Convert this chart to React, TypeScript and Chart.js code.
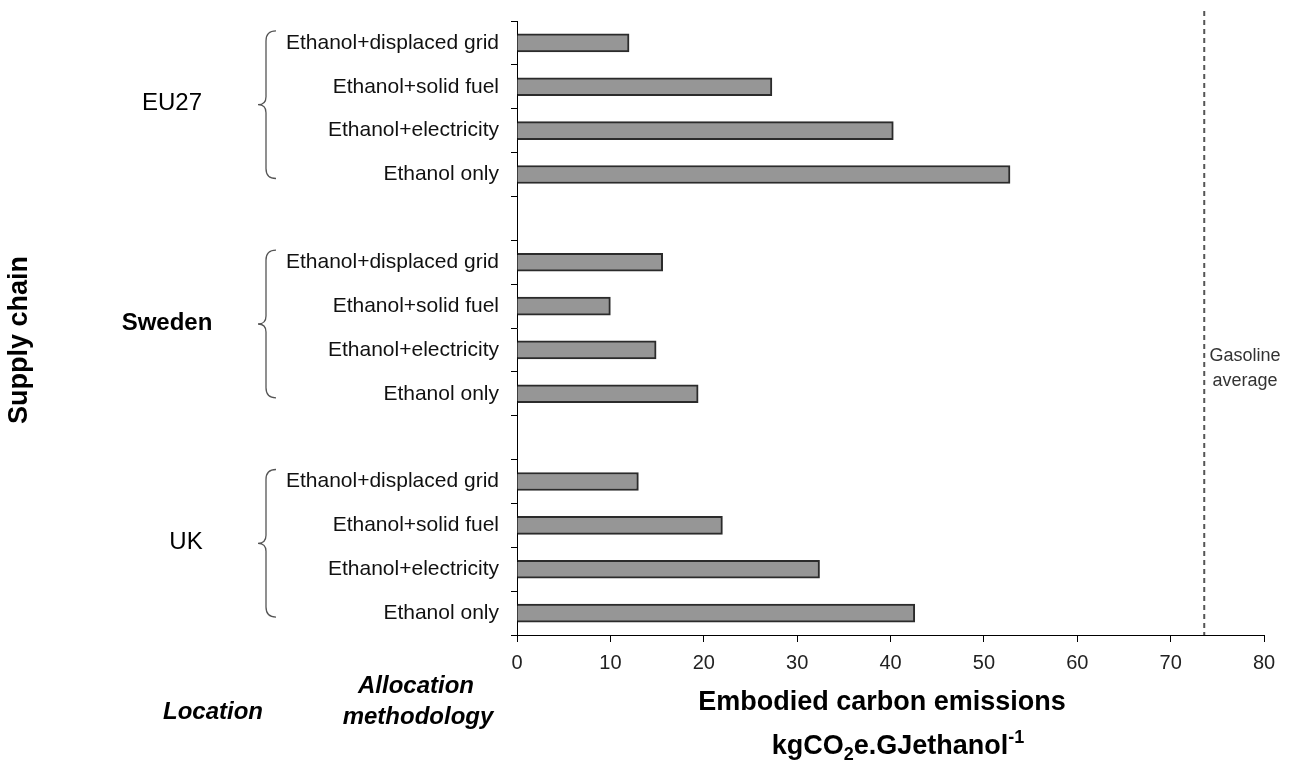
import React, { useEffect, useRef } from "react";
import { Chart, registerables } from "chart.js";

Chart.register(...registerables);

const groups = ["EU27", "Sweden", "UK"];
const methods = [
  "Ethanol+displaced grid",
  "Ethanol+solid fuel",
  "Ethanol+electricity",
  "Ethanol only",
];
const eu27Values = [12.0, 27.3, 40.3, 52.8];
const swedenValues = [15.6, 10.0, 14.9, 19.4];
const ukValues = [13.0, 22.0, 32.4, 42.6];
const xTickValues = [0, 10, 20, 30, 40, 50, 60, 70, 80];
const gasolineAverage = 73.6;

const FONT = "'Liberation Sans', Arial, sans-serif";

const labels: string[] = [...methods, "", ...methods, "", ...methods];
const values: (number | null)[] = [
  ...eu27Values,
  null,
  ...swedenValues,
  null,
  ...ukValues,
];

const annotationPlugin = {
  id: "annotations",
  afterDatasetsDraw(chart: any) {
    const ctx = chart.ctx as CanvasRenderingContext2D;
    const x = chart.scales.x;
    const y = chart.scales.y;
    const area = chart.chartArea;
    ctx.save();

    // gasoline average dashed line
    const gx = x.getPixelForValue(gasolineAverage);
    ctx.strokeStyle = "#555";
    ctx.lineWidth = 2;
    ctx.setLineDash([5, 4]);
    ctx.beginPath();
    ctx.moveTo(gx, 11);
    ctx.lineTo(gx, area.bottom);
    ctx.stroke();
    ctx.setLineDash([]);

    ctx.fillStyle = "#333";
    ctx.font = `18px ${FONT}`;
    ctx.textAlign = "center";
    ctx.textBaseline = "middle";
    ctx.fillText("Gasoline", 1245, 356);
    ctx.fillText("average", 1245, 381);

    // braces and group labels
    groups.forEach((g, gi) => {
      const first = gi * 5;
      const last = gi * 5 + 3;
      const top = y.getPixelForValue(first) - 12;
      const bottom = y.getPixelForValue(last) + 4;
      const mid = (top + bottom) / 2;
      const lx = 266;
      ctx.strokeStyle = "#555";
      ctx.lineWidth = 1.3;
      ctx.beginPath();
      ctx.moveTo(276, top);
      ctx.quadraticCurveTo(lx, top, lx, top + 10);
      ctx.lineTo(lx, mid - 8);
      ctx.quadraticCurveTo(lx, mid, 258, mid);
      ctx.quadraticCurveTo(lx, mid, lx, mid + 8);
      ctx.lineTo(lx, bottom - 10);
      ctx.quadraticCurveTo(lx, bottom, 276, bottom);
      ctx.stroke();

      ctx.fillStyle = "#000";
      ctx.font = `${g === "Sweden" ? "bold " : ""}24px ${FONT}`;
      ctx.textAlign = "center";
      ctx.textBaseline = "middle";
      ctx.fillText(g, g === "UK" ? 186 : g === "EU27" ? 172 : 167, mid - 1);
    });

    // Supply chain vertical title
    ctx.save();
    ctx.translate(20, 340);
    ctx.rotate(-Math.PI / 2);
    ctx.font = `bold 27px ${FONT}`;
    ctx.fillStyle = "#000";
    ctx.textAlign = "center";
    ctx.textBaseline = "middle";
    ctx.fillText("Supply chain", 0, 0);
    ctx.restore();

    // bottom-left headings
    ctx.font = `italic bold 24px ${FONT}`;
    ctx.fillStyle = "#000";
    ctx.textAlign = "center";
    ctx.textBaseline = "middle";
    ctx.fillText("Location", 213, 712);
    ctx.fillText("Allocation", 416, 686);
    ctx.fillText("methodology", 418, 717);

    // x axis title
    const cx = 882;
    ctx.font = `bold 27px ${FONT}`;
    ctx.fillText("Embodied carbon emissions", cx, 703);

    const big = `bold 27px ${FONT}`;
    const small = `bold 18px ${FONT}`;
    const segs: [string, string, number][] = [
      ["kgCO", big, 0],
      ["2", small, 6],
      ["e.GJethanol", big, 0],
      ["-1", small, -11],
    ];
    let total = 0;
    segs.forEach(([t, f]) => {
      ctx.font = f;
      total += ctx.measureText(t).width;
    });
    let sx = cx + 16 - total / 2;
    ctx.textAlign = "left";
    ctx.textBaseline = "alphabetic";
    const base = 754;
    segs.forEach(([t, f, dy]) => {
      ctx.font = f;
      ctx.fillText(t, sx, base + dy);
      sx += ctx.measureText(t).width;
    });

    ctx.restore();
  },
};

export default function App() {
  const ref = useRef<HTMLCanvasElement | null>(null);

  useEffect(() => {
    if (!ref.current) return;
    const chart = new Chart(ref.current, {
      type: "bar",
      data: {
        labels,
        datasets: [
          {
            data: values,
            backgroundColor: "#969696",
            borderColor: "#2b2b2b",
            borderWidth: 2,
            borderSkipped: "left",
            barThickness: 18,
          },
        ],
      },
      options: {
        indexAxis: "y",
        animation: false,
        responsive: false,
        maintainAspectRatio: false,
        layout: { padding: { top: 21, right: 52, left: 0, bottom: 0 } },
        plugins: {
          legend: { display: false },
          tooltip: { enabled: false },
        },
        scales: {
          x: {
            type: "linear",
            min: 0,
            max: 80,
            afterBuildTicks: (scale: any) => {
              scale.ticks = xTickValues.map((v) => ({ value: v }));
            },
            afterFit: (scale: any) => {
              scale.height = 125;
              scale.paddingLeft = 0;
              scale.paddingRight = 0;
            },
            border: { display: true, color: "#000", width: 1 },
            grid: {
              drawOnChartArea: false,
              drawTicks: true,
              tickLength: 7,
              color: "#000",
            },
            ticks: {
              color: "#222",
              font: { family: FONT, size: 20 },
              padding: 9,
              maxRotation: 0,
            },
          },
          y: {
            type: "category",
            offset: true,
            afterFit: (scale: any) => {
              scale.width = 517;
              scale.paddingTop = 0;
              scale.paddingBottom = 0;
            },
            border: { display: true, color: "#000", width: 1 },
            grid: {
              offset: true,
              drawOnChartArea: false,
              drawTicks: true,
              tickLength: 6,
              color: "#000",
            },
            ticks: {
              color: "#111",
              font: { family: FONT, size: 21 },
              padding: 12,
              autoSkip: false,
            },
          },
        },
      },
      plugins: [annotationPlugin],
    });
    return () => chart.destroy();
  }, []);

  return (
    <div style={{ position: "fixed", left: 0, top: 0, width: 1316, height: 760, background: "#fff" }}>
      <canvas ref={ref} width={1316} height={760} style={{ width: 1316, height: 760 }} />
    </div>
  );
}
